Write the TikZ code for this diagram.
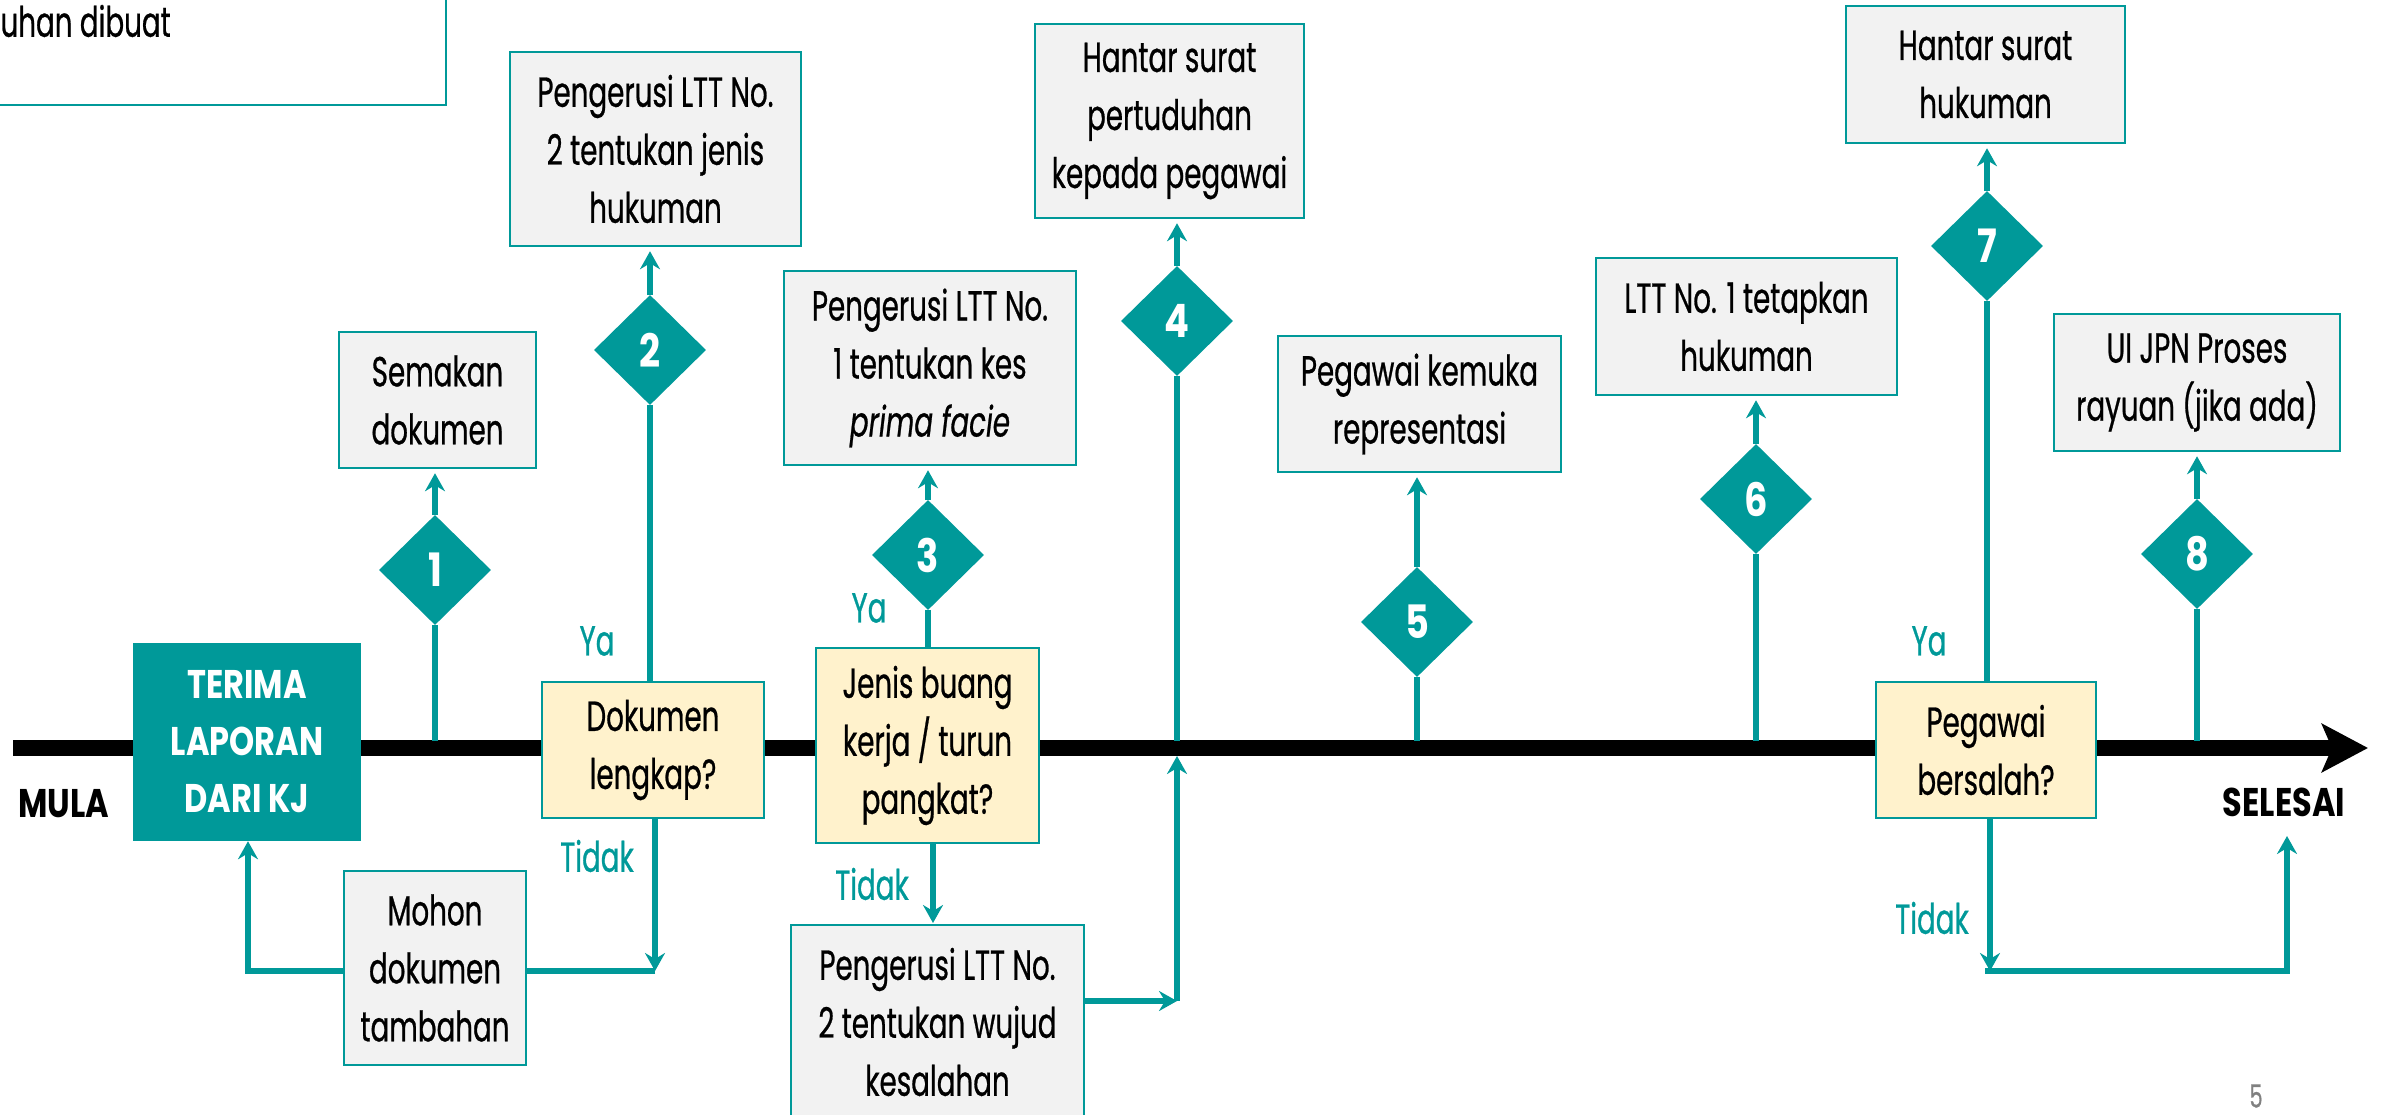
\documentclass[tikz,border=0pt]{standalone}
\usepackage{fontspec}
\setmainfont[FakeStretch=0.66,FakeBold=0.6,BoldFeatures={FakeStretch=0.8,FakeBold=0}]{Poppins}
\usetikzlibrary{shapes.geometric,arrows.meta,calc}
\definecolor{tealc}{RGB}{0,153,153}
\definecolor{boxgray}{RGB}{242,242,242}
\definecolor{boxyellow}{RGB}{255,242,204}

\begin{document}
\begin{tikzpicture}[x=1pt,y=-1pt,
  every node/.style={font=\fontsize{42}{58}\selectfont},
  proc/.style={draw=tealc,line width=2.5pt,fill=boxgray,align=center,inner sep=0pt},
  ask/.style={proc,fill=boxyellow},
  num/.style={diamond,fill=tealc,text=white,minimum width=112pt,minimum height=110pt,inner sep=0pt,font=\fontsize{46}{46}\selectfont\bfseries},
  link/.style={draw=tealc,line width=5.5pt},
  go/.style={link,-{Stealth[length=18pt,width=20pt,inset=6pt]}},
  ans/.style={text=tealc},
  ends/.style={font=\fontsize{40}{40}\selectfont\bfseries}]
\useasboundingbox (0,0) rectangle (2390,1115);
\clip (0,0) rectangle (2390,1115);

% garis masa
\coordinate (tl0) at (13,748); \coordinate (tl1) at (2368,748);
\coordinate (tltop) at (13,741); \coordinate (tlbot) at (13,756);
\draw[line width=16pt,-{Stealth[length=46pt,width=48pt,inset=10pt]}] (tl0) -- (tl1);

% kotak atas kiri
\draw[draw=tealc,line width=2.5pt,fill=white] (-20,-20) rectangle (446,105);
\node[anchor=west] (topl) at (-3,21) {uhan dibuat};

% kotak proses
\node[proc,fill=tealc,draw=tealc,text=white,font=\fontsize{40}{57}\selectfont\bfseries,minimum width=226pt,minimum height=196pt] (terima) at (247,742) {TERIMA\\LAPORAN\\DARI KJ};
\node[proc,minimum width=197pt,minimum height=136pt] (sem) at (437.5,400) {Semakan\\dokumen};
\node[proc,minimum width=291pt,minimum height=194pt] (p2) at (655.5,149) {Pengerusi LTT No.\\2 tentukan jenis\\hukuman};
\node[ask,minimum width=222pt,minimum height=136pt] (dok) at (653,750) {Dokumen\\lengkap?};
\node[proc,minimum width=182pt,minimum height=194pt] (mohon) at (435,968) {Mohon\\dokumen\\tambahan};
\node[proc,minimum width=292pt,minimum height=194pt] (p1) at (930,368) {Pengerusi LTT No.\\1 tentukan kes\\\textit{prima facie}};
\node[ask,minimum width=223pt,minimum height=195pt] (jenis) at (927.5,745.5) {Jenis buang\\kerja / turun\\pangkat?};
\node[proc,minimum width=293pt,minimum height=194pt] (wujud) at (937.5,1022) {Pengerusi LTT No.\\2 tentukan wujud\\kesalahan};
\node[proc,minimum width=269pt,minimum height=194pt] (h1) at (1169.5,121) {Hantar surat\\pertuduhan\\kepada pegawai};
\node[proc,minimum width=283pt,minimum height=136pt] (pk) at (1419.5,404) {Pegawai kemuka\\representasi};
\node[proc,minimum width=301pt,minimum height=137pt] (ltt1) at (1746.5,326.5) {LTT No. 1 tetapkan\\hukuman};
\node[proc,minimum width=279pt,minimum height=137pt] (h2) at (1985.5,74.5) {Hantar surat\\hukuman};
\node[proc,minimum width=286pt,minimum height=137pt] (ui) at (2197,382.5) {UI JPN Proses\\rayuan (jika ada)};
\node[ask,minimum width=220pt,minimum height=136pt] (pb) at (1986,750) {Pegawai\\bersalah?};

% langkah bernombor
\node[num] (d1) at (435,570) {1};
\node[num] (d2) at (650,350) {2};
\node[num] (d3) at (928,555) {3};
\node[num] (d4) at (1177,321) {4};
\node[num] (d5) at (1417,622) {5};
\node[num] (d6) at (1756,499) {6};
\node[num] (d7) at (1987,246) {7};
\node[num] (d8) at (2197,554) {8};

% penyambung
\foreach \d/\b in {d1/sem,d2/p2,d3/p1,d4/h1,d5/pk,d6/ltt1,d7/h2,d8/ui}
  \draw[go,shorten >=4pt] (\d.north) -- (\d.north |- \b.south);
\foreach \d in {d1,d4,d5,d6,d8}
  \draw[link] (\d.south) -- (\d.south |- tltop);
\draw[link] (dok.north -| d2) -- (d2.south);
\draw[link] (jenis.north -| d3) -- (d3.south);
\draw[link] (pb.north -| d7) -- (d7.south);

\coordinate (cdok) at (655,971);
\coordinate (cter) at (248,971);
\draw[go] (dok.south -| cdok) -- (cdok);
\draw[link] (cdok) -- (mohon.east |- cdok);
\draw[go] (mohon.west |- cter) -- (cter) -- (cter |- terima.south);

\draw[go] (jenis.south -| 933,0) -- (933,923);
\coordinate (cw) at (1177,1001);
\draw[go] (wujud.east |- cw) -- (cw);
\draw[go] (cw) -- (cw |- tlbot);

\coordinate (cpb) at (1990,971);
\coordinate (cend) at (2287,836);
\draw[go] (pb.south -| cpb) -- (cpb);
\draw[go] (1985,971) -- (cend |- cpb) -- (cend);

% label
\node[ans] (ya1) at (597,641) {Ya};
\node[ans] (ya2) at (869,608) {Ya};
\node[ans] (ya3) at (1929,641) {Ya};
\node[ans] (td1) at (597,856) {Tidak};
\node[ans] (td2) at (872,884) {Tidak};
\node[ans] (td3) at (1932,918) {Tidak};
\node[ends] (mula) at (64,804) {MULA};
\node[ends] (selesai) at (2284,802) {SELESAI};
\node[text=gray,font=\fontsize{32}{32}\selectfont] (pg) at (2256,1096) {5};
\end{tikzpicture}
\end{document}
